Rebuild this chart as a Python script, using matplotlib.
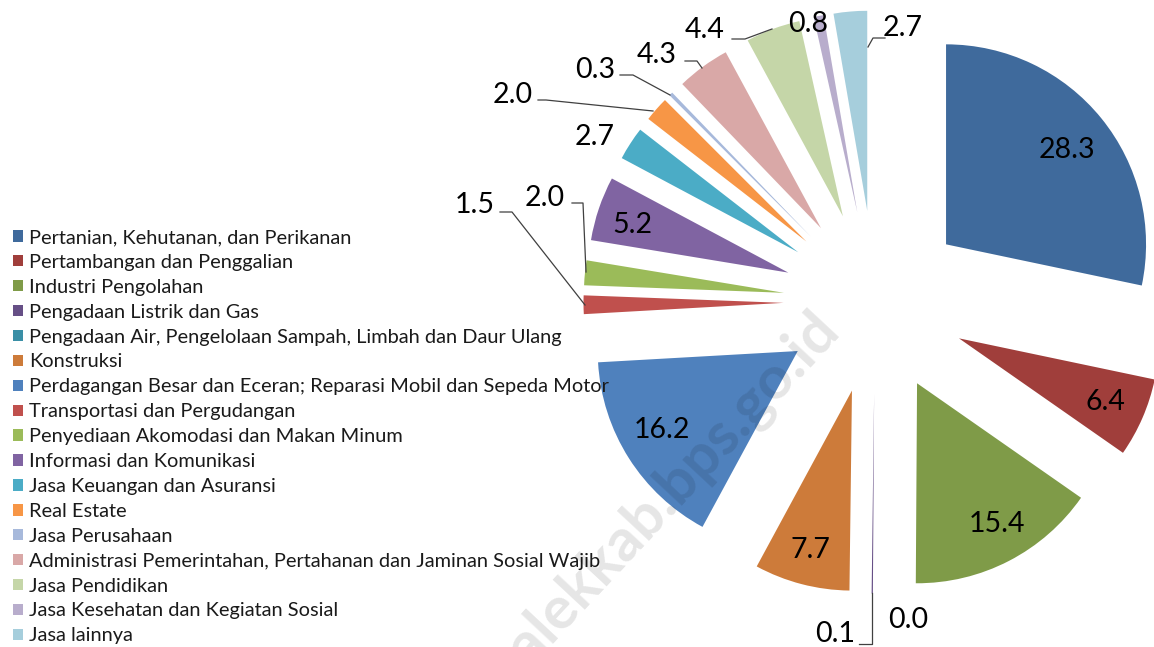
import matplotlib
matplotlib.use("Agg")
import matplotlib.pyplot as plt

plt.rcParams['font.family'] = ['Lato', 'DejaVu Sans']

categories = [
    "Pertanian, Kehutanan, dan Perikanan",
    "Pertambangan dan Penggalian",
    "Industri Pengolahan",
    "Pengadaan Listrik dan Gas",
    "Pengadaan Air, Pengelolaan Sampah, Limbah dan Daur Ulang",
    "Konstruksi",
    "Perdagangan Besar dan Eceran; Reparasi Mobil dan Sepeda Motor",
    "Transportasi dan Pergudangan",
    "Penyediaan Akomodasi dan Makan Minum",
    "Informasi dan Komunikasi",
    "Jasa Keuangan dan Asuransi",
    "Real Estate",
    "Jasa Perusahaan",
    "Administrasi Pemerintahan, Pertahanan dan Jaminan Sosial Wajib",
    "Jasa Pendidikan",
    "Jasa Kesehatan dan Kegiatan Sosial",
    "Jasa lainnya",
]
values = [28.3, 6.4, 15.4, 0.1, 0.0, 7.7, 16.2, 1.5, 2.0, 5.2, 2.7, 2.0, 0.3, 4.3, 4.4, 0.8, 2.7]

colors = ["#3F6A9C", "#A03E3B", "#7F9B48", "#664F86", "#3A8FA6", "#CD7B3A",
          "#4F81BD", "#C0504D", "#9BBB59", "#8064A2", "#4BACC6", "#F79646",
          "#A7B9DB", "#D9A8A7", "#C5D6A8", "#B8ADCC", "#A6CEDC"]

W, H = 1154, 647
CX, CY, R = 875, 302, 200  # pie centre and radius in pixels

def P(x, y):
    return ((x - CX) / R, (CY - y) / R)

fig = plt.figure(figsize=(W / 100, H / 100), dpi=100)
ax = fig.add_axes([0, 0, 1, 1])

wedges, _ = ax.pie(values, colors=colors, startangle=90, counterclock=False,
                   explode=[0.4575] * len(values), radius=1, center=(0, 0),
                   wedgeprops=dict(linewidth=0))
ax.set_xlim(-CX / R, (W - CX) / R)
ax.set_ylim((CY - H) / R, CY / R)
ax.set_aspect('auto')
ax.set_position([0, 0, 1, 1])
ax.axis('off')

# label positions (pixel centres) and leader lines
label_pos = [(1067, 150), (1105, 402), (997, 524), (835, 634), (908, 620),
             (810, 550), (662, 430), (475, 205), (545, 198), (632, 225),
             (595, 137), (513, 95), (595, 70), (657, 55), (705, 30),
             (808, 24), (903, 28)]
leaders = {
    3: [(859, 644), (872, 644), (872, 593)],
    7: [(500, 212), (512, 212), (585, 305)],
    8: [(572, 203), (583, 203), (586, 272)],
    11: [(538, 100), (546, 100), (653, 111)],
    12: [(620, 75), (633, 75), (670, 95)],
    13: [(685, 61), (697, 61), (702, 68)],
    14: [(732, 39), (745, 39), (772, 29)],
    16: [(885, 38), (873, 38), (868, 47)],
}
for i, v in enumerate(values):
    x, y = P(*label_pos[i])
    ax.text(x, y, f"{v:.1f}", ha='center', va='center', fontsize=20.5,
            color='black', zorder=5)
for i, pts in leaders.items():
    xs, ys = zip(*[P(*p) for p in pts])
    ax.plot(xs, ys, color='#404040', lw=0.9, zorder=4)

# watermark
wx, wy = P(830, 322)
ax.text(wx, wy, "trenggalekkab.bps.go.id", rotation=47, rotation_mode='anchor',
        ha='right', va='center', fontsize=43, fontweight='bold',
        color='black', alpha=0.1, zorder=6, clip_on=True)

leg = ax.legend(wedges, categories, loc='upper left',
                bbox_to_anchor=(13 / W, 1 - 229 / H), bbox_transform=fig.transFigure,
                frameon=False, fontsize=14.4, handlelength=0.5, handleheight=0.5,
                handletextpad=0.3, labelspacing=0.395, borderpad=0, borderaxespad=0)
for t in leg.get_texts():
    t.set_color('#1a1a1a')

fig.savefig("out.png", dpi=100)
